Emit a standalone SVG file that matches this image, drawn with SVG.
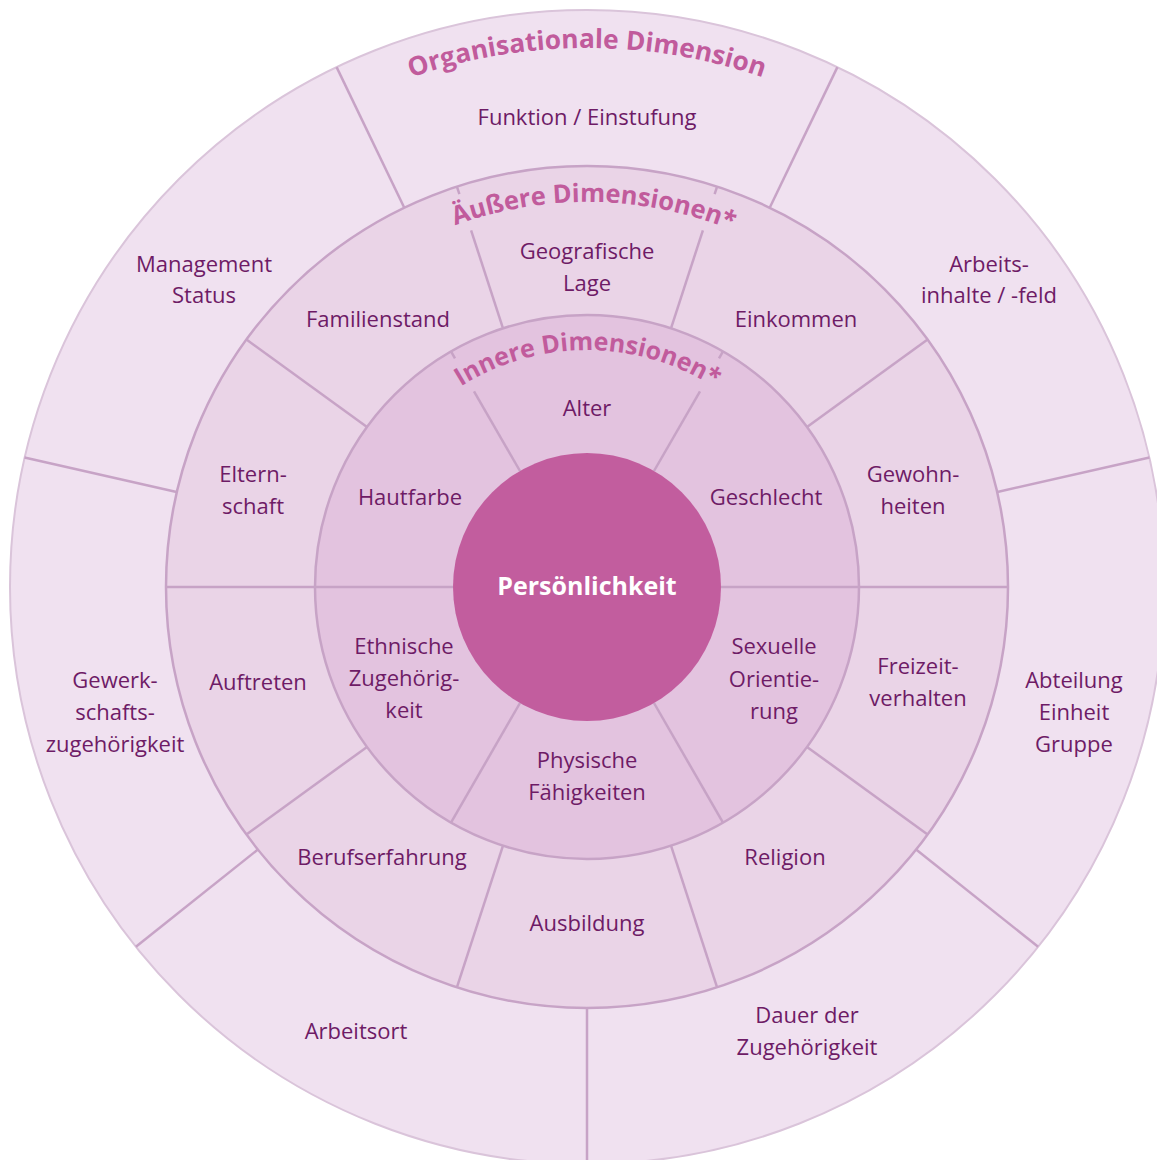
<svg xmlns="http://www.w3.org/2000/svg" width="1157" height="1160" viewBox="0 0 1157 1160">
<style>
.lbl{font-family:"Open Sans","Noto Sans","Liberation Sans",sans-serif;font-size:22px;fill:#6e1b66;text-anchor:middle}
.ttl{font-family:"Open Sans","Noto Sans","Liberation Sans",sans-serif;font-weight:bold;fill:#c15b9c;text-anchor:middle}
.div{stroke:#c7a3c6;stroke-width:2.5;fill:none}
</style>
<defs>
<path id="arcO" d="M240.5,174.1 A539,539 0 0 1 933.5,174.1"/>
<path id="arcM" d="M339.5,292.1 A385,385 0 0 1 834.5,292.1"/>
<path id="arcI" d="M434.7,405.5 A237,237 0 0 1 739.3,405.5"/>
</defs>
<rect width="1157" height="1160" fill="#ffffff"/>
<g id="rings">
<circle cx="587" cy="587" r="577" fill="#f0e1f0" stroke="#dac4da" stroke-width="2"/>
<circle cx="587" cy="587" r="421" fill="#ead4e7" stroke="#c7a3c6" stroke-width="2.5"/>
<circle cx="587" cy="587" r="272" fill="#e3c3df" stroke="#c7a3c6" stroke-width="2.5"/>
</g>
<g id="dividers" class="div">
<line x1="654" y1="471" x2="700" y2="391.3"/><line x1="719" y1="358.4" x2="723" y2="351.4"/>
<line x1="520" y1="471" x2="474" y2="391.3"/><line x1="455" y1="358.4" x2="451" y2="351.4"/>
<line x1="721" y1="587" x2="859" y2="587"/>
<line x1="453" y1="587" x2="315" y2="587"/>
<line x1="654" y1="703" x2="723" y2="822.6"/>
<line x1="520" y1="703" x2="451" y2="822.6"/>
<line x1="671" y1="328.3" x2="702.9" y2="230.3"/><line x1="714.6" y1="194.2" x2="717.1" y2="186.6"/>
<line x1="503" y1="328.3" x2="471.1" y2="230.3"/><line x1="459.4" y1="194.2" x2="456.9" y2="186.6"/>
<line x1="807" y1="427.1" x2="927.6" y2="339.5"/>
<line x1="859" y1="587" x2="1008" y2="587"/>
<line x1="807" y1="746.9" x2="927.6" y2="834.5"/>
<line x1="671" y1="845.7" x2="717.1" y2="987.4"/>
<line x1="503" y1="845.7" x2="456.9" y2="987.4"/>
<line x1="367" y1="746.9" x2="246.4" y2="834.5"/>
<line x1="315" y1="587" x2="166" y2="587"/>
<line x1="367" y1="427.1" x2="246.4" y2="339.5"/>
<line x1="769.7" y1="207.7" x2="837.4" y2="67.1"/>
<line x1="997.4" y1="492" x2="1149.5" y2="457.5"/>
<line x1="916.1" y1="849.5" x2="1038.1" y2="946.8"/>
<line x1="587" y1="1008" x2="587" y2="1164"/>
<line x1="257.9" y1="849.5" x2="135.9" y2="946.8"/>
<line x1="176.6" y1="492" x2="24.5" y2="457.5"/>
<line x1="404.3" y1="207.7" x2="336.6" y2="67.1"/>
</g>
<g id="center">
<circle cx="587" cy="587" r="134" fill="#c25d9e"/>
<text x="587" y="595" font-family="'Open Sans','Noto Sans',sans-serif" font-weight="bold" font-size="25" fill="#ffffff" text-anchor="middle">Persönlichkeit</text>
</g>
<g id="titles">
<text class="ttl" font-size="26.3"><textPath href="#arcO" startOffset="50%">Organisationale Dimension</textPath></text>
<text class="ttl" font-size="25.5"><textPath href="#arcM" startOffset="51.3%">Äußere Dimensionen*</textPath></text>
<text class="ttl" font-size="25"><textPath href="#arcI" startOffset="50.2%">Innere Dimensionen*</textPath></text>
</g>
<g id="outer">
<g id="funktion"><text class="lbl" x="587" y="125">Funktion / Einstufung</text></g>
<g id="arbeitsinhalte"><text class="lbl" x="989" y="272">Arbeits-</text><text class="lbl" x="989" y="303">inhalte / -feld</text></g>
<g id="abteilung"><text class="lbl" x="1074" y="688">Abteilung</text><text class="lbl" x="1074" y="720">Einheit</text><text class="lbl" x="1074" y="752">Gruppe</text></g>
<g id="dauer"><text class="lbl" x="807" y="1023">Dauer der</text><text class="lbl" x="807" y="1055">Zugehörigkeit</text></g>
<g id="arbeitsort"><text class="lbl" x="356" y="1039">Arbeitsort</text></g>
<g id="gewerkschaft"><text class="lbl" x="115" y="688">Gewerk-</text><text class="lbl" x="115" y="720">schafts-</text><text class="lbl" x="115" y="752">zugehörigkeit</text></g>
<g id="management"><text class="lbl" x="204" y="272">Management</text><text class="lbl" x="204" y="303">Status</text></g>
</g>
<g id="middle">
<g id="geografie"><text class="lbl" x="587" y="259">Geografische</text><text class="lbl" x="587" y="291">Lage</text></g>
<g id="einkommen"><text class="lbl" x="796" y="327">Einkommen</text></g>
<g id="gewohnheiten"><text class="lbl" x="913" y="482">Gewohn-</text><text class="lbl" x="913" y="514">heiten</text></g>
<g id="freizeit"><text class="lbl" x="918" y="674">Freizeit-</text><text class="lbl" x="918" y="706">verhalten</text></g>
<g id="religion"><text class="lbl" x="785" y="865">Religion</text></g>
<g id="ausbildung"><text class="lbl" x="587" y="931">Ausbildung</text></g>
<g id="berufserfahrung"><text class="lbl" x="382" y="865">Berufserfahrung</text></g>
<g id="auftreten"><text class="lbl" x="258" y="690">Auftreten</text></g>
<g id="elternschaft"><text class="lbl" x="253" y="482">Eltern-</text><text class="lbl" x="253" y="514">schaft</text></g>
<g id="familienstand"><text class="lbl" x="378" y="327">Familienstand</text></g>
</g>
<g id="inner">
<g id="alter"><text class="lbl" x="587" y="416">Alter</text></g>
<g id="geschlecht"><text class="lbl" x="766" y="505">Geschlecht</text></g>
<g id="sexuelle"><text class="lbl" x="774" y="654">Sexuelle</text><text class="lbl" x="774" y="687">Orientie-</text><text class="lbl" x="774" y="719">rung</text></g>
<g id="physische"><text class="lbl" x="587" y="768">Physische</text><text class="lbl" x="587" y="800">Fähigkeiten</text></g>
<g id="ethnische"><text class="lbl" x="404" y="654">Ethnische</text><text class="lbl" x="404" y="686">Zugehörig-</text><text class="lbl" x="404" y="718">keit</text></g>
<g id="hautfarbe"><text class="lbl" x="410" y="505">Hautfarbe</text></g>
</g>
</svg>
